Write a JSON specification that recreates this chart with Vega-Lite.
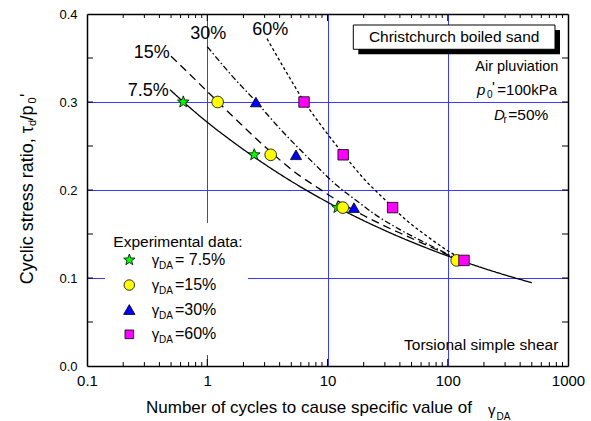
{
  "$schema": "https://vega.github.io/schema/vega-lite/v6.json",
  "width": 481,
  "height": 352,
  "autosize": {"type": "none"},
  "padding": {"left": 87, "top": 14, "right": 23, "bottom": 55},
  "background": "white",
  "config": {
    "view": {"stroke": null},
    "font": "Liberation Sans",
    "axis": {
      "domainColor": "black", "domainWidth": 1.5,
      "labelColor": "black", "labelFont": "Liberation Sans", "labelFlush": false, "labelOverlap": false,
      "gridColor": "#3b3bff", "gridWidth": 1, "gridOpacity": 1, "title": null
    },
    "text": {"font": "Liberation Sans", "color": "black"}
  },
  "data": {"values": [{}]},
  "datasets": {
    "curves": [
      {"gamma": "7.5%", "n": 0.49, "tau": 0.314}, {"gamma": "7.5%", "n": 0.635, "tau": 0.3},
      {"gamma": "7.5%", "n": 1, "tau": 0.277}, {"gamma": "7.5%", "n": 1.5, "tau": 0.2585},
      {"gamma": "7.5%", "n": 2.5, "tau": 0.2367}, {"gamma": "7.5%", "n": 4, "tau": 0.2182},
      {"gamma": "7.5%", "n": 6.5, "tau": 0.2006}, {"gamma": "7.5%", "n": 10, "tau": 0.1862},
      {"gamma": "7.5%", "n": 15, "tau": 0.1736}, {"gamma": "7.5%", "n": 25, "tau": 0.1589},
      {"gamma": "7.5%", "n": 40, "tau": 0.1465}, {"gamma": "7.5%", "n": 65, "tau": 0.1347},
      {"gamma": "7.5%", "n": 100, "tau": 0.125}, {"gamma": "7.5%", "n": 160, "tau": 0.1153},
      {"gamma": "7.5%", "n": 250, "tau": 0.1067}, {"gamma": "7.5%", "n": 400, "tau": 0.0984},
      {"gamma": "7.5%", "n": 500, "tau": 0.0946},
      {"gamma": "15%", "n": 0.5, "tau": 0.352}, {"gamma": "15%", "n": 0.8, "tau": 0.325},
      {"gamma": "15%", "n": 1.23, "tau": 0.3}, {"gamma": "15%", "n": 2, "tau": 0.272},
      {"gamma": "15%", "n": 3.39, "tau": 0.243}, {"gamma": "15%", "n": 5.5, "tau": 0.219},
      {"gamma": "15%", "n": 8, "tau": 0.204}, {"gamma": "15%", "n": 13.5, "tau": 0.184},
      {"gamma": "15%", "n": 20, "tau": 0.171}, {"gamma": "15%", "n": 30, "tau": 0.159},
      {"gamma": "15%", "n": 45, "tau": 0.148}, {"gamma": "15%", "n": 70, "tau": 0.136},
      {"gamma": "15%", "n": 116, "tau": 0.1225},
      {"gamma": "30%", "n": 1, "tau": 0.363}, {"gamma": "30%", "n": 1.6, "tau": 0.33},
      {"gamma": "30%", "n": 2.56, "tau": 0.3}, {"gamma": "30%", "n": 4, "tau": 0.27},
      {"gamma": "30%", "n": 5.52, "tau": 0.25}, {"gamma": "30%", "n": 8, "tau": 0.228},
      {"gamma": "30%", "n": 12, "tau": 0.205}, {"gamma": "30%", "n": 17, "tau": 0.189},
      {"gamma": "30%", "n": 25, "tau": 0.172}, {"gamma": "30%", "n": 40, "tau": 0.155},
      {"gamma": "30%", "n": 65, "tau": 0.14}, {"gamma": "30%", "n": 116, "tau": 0.1225},
      {"gamma": "60%", "n": 3.14, "tau": 0.372}, {"gamma": "60%", "n": 4.5, "tau": 0.335},
      {"gamma": "60%", "n": 6.43, "tau": 0.3}, {"gamma": "60%", "n": 9, "tau": 0.272},
      {"gamma": "60%", "n": 13.7, "tau": 0.24}, {"gamma": "60%", "n": 20, "tau": 0.213},
      {"gamma": "60%", "n": 29.5, "tau": 0.19}, {"gamma": "60%", "n": 45, "tau": 0.166},
      {"gamma": "60%", "n": 68, "tau": 0.147}, {"gamma": "60%", "n": 100, "tau": 0.131},
      {"gamma": "60%", "n": 125, "tau": 0.123}
    ],
    "tests": [
      {"gamma": "7.5%", "n": 0.632, "tau": 0.3}, {"gamma": "7.5%", "n": 2.46, "tau": 0.24},
      {"gamma": "7.5%", "n": 12.1, "tau": 0.18},
      {"gamma": "15%", "n": 1.22, "tau": 0.3}, {"gamma": "15%", "n": 3.37, "tau": 0.24},
      {"gamma": "15%", "n": 13.4, "tau": 0.18}, {"gamma": "15%", "n": 118.7, "tau": 0.12},
      {"gamma": "30%", "n": 2.54, "tau": 0.3}, {"gamma": "30%", "n": 5.47, "tau": 0.24},
      {"gamma": "30%", "n": 16.6, "tau": 0.18},
      {"gamma": "60%", "n": 6.38, "tau": 0.3}, {"gamma": "60%", "n": 13.5, "tau": 0.24},
      {"gamma": "60%", "n": 34.8, "tau": 0.18}, {"gamma": "60%", "n": 136.5, "tau": 0.12}
    ],
    "minorTicksX": [
      {"n": 0.2}, {"n": 0.3}, {"n": 0.4}, {"n": 0.5}, {"n": 0.6}, {"n": 0.7}, {"n": 0.8}, {"n": 0.9},
      {"n": 2}, {"n": 3}, {"n": 4}, {"n": 5}, {"n": 6}, {"n": 7}, {"n": 8}, {"n": 9},
      {"n": 20}, {"n": 30}, {"n": 40}, {"n": 50}, {"n": 60}, {"n": 70}, {"n": 80}, {"n": 90},
      {"n": 200}, {"n": 300}, {"n": 400}, {"n": 500}, {"n": 600}, {"n": 700}, {"n": 800}, {"n": 900}
    ],
    "majorTicksX": [{"n": 1}, {"n": 10}, {"n": 100}],
    "ticksY": [{"tau": 0.05}, {"tau": 0.1}, {"tau": 0.15}, {"tau": 0.2}, {"tau": 0.25}, {"tau": 0.3}, {"tau": 0.35}]
  },
  "resolve": {"axis": {"x": "independent", "y": "independent"}},
  "layer": [
    {
      "description": "shadow of the title box; its axes draw the blue grid",
      "mark": {"type": "rect", "fill": "black"},
      "encoding": {
        "x": {"datum": 18.03, "type": "quantitative", "scale": {"type": "log", "domain": [0.1, 1000]},
              "axis": {"orient": "bottom", "values": [1, 10, 100], "grid": true, "ticks": false, "labels": false, "domain": false, "zindex": 0}},
        "x2": {"datum": 858.2},
        "y": {"datum": 0.3818, "type": "quantitative", "scale": {"domain": [0, 0.4], "nice": false},
              "axis": {"orient": "left", "values": [0.1, 0.2, 0.3], "grid": true, "ticks": false, "labels": false, "domain": false, "zindex": 0}},
        "y2": {"datum": 0.3542}
      }
    },
    {
      "description": "title box",
      "mark": {"type": "rect", "fill": "white", "stroke": "black", "strokeWidth": 1},
      "encoding": {
        "x": {"datum": 16.39, "type": "quantitative", "scale": {"type": "log", "domain": [0.1, 1000]}, "axis": null},
        "x2": {"datum": 779.6},
        "y": {"datum": 0.3875, "type": "quantitative", "scale": {"domain": [0, 0.4], "nice": false}, "axis": null},
        "y2": {"datum": 0.3599}
      }
    },
    {
      "description": "white backing of the legend",
      "mark": {"type": "rect", "fill": "white"},
      "encoding": {
        "x": {"datum": 0.1412, "type": "quantitative", "scale": {"type": "log", "domain": [0.1, 1000]}, "axis": null},
        "x2": {"datum": 2.183},
        "y": {"datum": 0.1625, "type": "quantitative", "scale": {"domain": [0, 0.4], "nice": false}, "axis": null},
        "y2": {"datum": 0.0125}
      }
    },
    {
      "description": "fitted curves; the axes draw the labels and the bottom and left frame",
      "data": {"name": "curves"},
      "mark": {"type": "line", "color": "black", "strokeWidth": 1.3, "interpolate": "monotone"},
      "encoding": {
        "x": {"field": "n", "type": "quantitative", "scale": {"type": "log", "domain": [0.1, 1000]},
              "axis": {"orient": "bottom", "values": [0.1, 1, 10, 100, 1000], "format": "~g",
                       "ticks": false, "labelPadding": 7, "labelFontSize": 15, "domain": true, "grid": false, "zindex": 1}},
        "y": {"field": "tau", "type": "quantitative", "scale": {"domain": [0, 0.4], "nice": false},
              "axis": {"orient": "left", "values": [0, 0.1, 0.2, 0.3, 0.4], "format": ".1f",
                       "ticks": false, "labelPadding": 10, "labelFontSize": 13, "domain": true, "grid": false, "zindex": 1}},
        "strokeDash": {"field": "gamma", "type": "nominal",
                       "scale": {"domain": ["7.5%", "15%", "30%", "60%"], "range": [[1, 0], [8, 5], [6, 2.5, 1.5, 2.5], [3, 2.5]]},
                       "legend": null}
      }
    },
    {
      "description": "experimental data points; the axes draw the top and right frame",
      "data": {"name": "tests"},
      "mark": {"type": "point", "filled": true, "stroke": "black", "strokeWidth": 0.8, "opacity": 1},
      "encoding": {
        "x": {"field": "n", "type": "quantitative", "scale": {"type": "log", "domain": [0.1, 1000]},
              "axis": {"orient": "top", "values": [0.1, 1000], "ticks": false, "labels": false, "domain": true, "grid": false, "zindex": 1}},
        "y": {"field": "tau", "type": "quantitative", "scale": {"domain": [0, 0.4], "nice": false},
              "axis": {"orient": "right", "values": [0, 0.4], "ticks": false, "labels": false, "domain": true, "grid": false, "zindex": 1}},
        "shape": {"field": "gamma", "type": "nominal",
                  "scale": {"domain": ["7.5%", "15%", "30%", "60%"],
                            "range": ["M0,-1L0.247,-0.34L0.951,-0.309L0.399,0.13L0.588,0.809L0,0.42L-0.588,0.809L-0.399,0.13L-0.951,-0.309L-0.247,-0.34Z", "circle", "triangle-up", "square"]},
                  "legend": null},
        "fill": {"field": "gamma", "type": "nominal",
                 "scale": {"domain": ["7.5%", "15%", "30%", "60%"], "range": ["#00ff00", "#ffff00", "#0000ff", "#ff00ff"]},
                 "legend": null},
        "size": {"field": "gamma", "type": "nominal",
                 "scale": {"domain": ["7.5%", "15%", "30%", "60%"], "range": [150, 110, 130, 75]},
                 "legend": null}
      }
    },
    {
      "description": "inward minor ticks, bottom edge",
      "data": {"name": "minorTicksX"},
      "mark": {"type": "rule", "color": "black", "strokeWidth": 1},
      "encoding": {
        "x": {"field": "n", "type": "quantitative", "scale": {"type": "log"}, "axis": null},
        "y": {"datum": 0, "type": "quantitative", "axis": null},
        "y2": {"datum": 0.0045}
      }
    },
    {
      "description": "inward minor ticks, top edge",
      "data": {"name": "minorTicksX"},
      "mark": {"type": "rule", "color": "black", "strokeWidth": 1},
      "encoding": {
        "x": {"field": "n", "type": "quantitative", "scale": {"type": "log"}, "axis": null},
        "y": {"datum": 0.4, "type": "quantitative", "axis": null},
        "y2": {"datum": 0.3955}
      }
    },
    {
      "description": "inward decade ticks, bottom edge",
      "data": {"name": "majorTicksX"},
      "mark": {"type": "rule", "color": "black", "strokeWidth": 1},
      "encoding": {
        "x": {"field": "n", "type": "quantitative", "scale": {"type": "log"}, "axis": null},
        "y": {"datum": 0, "type": "quantitative", "axis": null},
        "y2": {"datum": 0.008}
      }
    },
    {
      "description": "inward decade ticks, top edge",
      "data": {"name": "majorTicksX"},
      "mark": {"type": "rule", "color": "black", "strokeWidth": 1},
      "encoding": {
        "x": {"field": "n", "type": "quantitative", "scale": {"type": "log"}, "axis": null},
        "y": {"datum": 0.4, "type": "quantitative", "axis": null},
        "y2": {"datum": 0.392}
      }
    },
    {
      "description": "inward ticks, left edge",
      "data": {"name": "ticksY"},
      "mark": {"type": "rule", "color": "black", "strokeWidth": 1},
      "encoding": {
        "y": {"field": "tau", "type": "quantitative", "axis": null},
        "x": {"datum": 0.1, "type": "quantitative", "scale": {"type": "log"}, "axis": null},
        "x2": {"datum": 0.1122}
      }
    },
    {
      "description": "inward ticks, right edge",
      "data": {"name": "ticksY"},
      "mark": {"type": "rule", "color": "black", "strokeWidth": 1},
      "encoding": {
        "y": {"field": "tau", "type": "quantitative", "axis": null},
        "x": {"datum": 1000, "type": "quantitative", "scale": {"type": "log"}, "axis": null},
        "x2": {"datum": 891.3}
      }
    },
    {
      "mark": {"type": "text", "text": "7.5%", "fontSize": 18, "align": "center", "baseline": "middle"},
      "encoding": {
        "x": {"datum": 0.3235, "type": "quantitative", "scale": {"type": "log"}, "axis": null},
        "y": {"datum": 0.3125, "type": "quantitative", "axis": null}
      }
    },
    {
      "mark": {"type": "text", "text": "15%", "fontSize": 18, "align": "center", "baseline": "middle"},
      "encoding": {
        "x": {"datum": 0.3458, "type": "quantitative", "scale": {"type": "log"}, "axis": null},
        "y": {"datum": 0.3553, "type": "quantitative", "axis": null}
      }
    },
    {
      "mark": {"type": "text", "text": "30%", "fontSize": 18, "align": "center", "baseline": "middle"},
      "encoding": {
        "x": {"datum": 1.018, "type": "quantitative", "scale": {"type": "log"}, "axis": null},
        "y": {"datum": 0.3773, "type": "quantitative", "axis": null}
      }
    },
    {
      "mark": {"type": "text", "text": "60%", "fontSize": 18, "align": "center", "baseline": "middle"},
      "encoding": {
        "x": {"datum": 3.344, "type": "quantitative", "scale": {"type": "log"}, "axis": null},
        "y": {"datum": 0.3815, "type": "quantitative", "axis": null}
      }
    },
    {
      "mark": {"type": "text", "text": "Christchurch boiled sand", "fontSize": 15.5, "align": "center", "baseline": "middle"},
      "encoding": {
        "x": {"datum": 113.1, "type": "quantitative", "scale": {"type": "log"}, "axis": null},
        "y": {"datum": 0.3739, "type": "quantitative", "axis": null}
      }
    },
    {
      "mark": {"type": "text", "text": "Air pluviation", "fontSize": 14.5, "align": "right", "baseline": "middle"},
      "encoding": {
        "x": {"datum": 830.6, "type": "quantitative", "scale": {"type": "log"}, "axis": null},
        "y": {"datum": 0.3401, "type": "quantitative", "axis": null}
      }
    },
    {
      "mark": {"type": "text", "text": "p", "fontSize": 15, "fontStyle": "italic", "align": "left", "baseline": "middle"},
      "encoding": {
        "x": {"datum": 175.1, "type": "quantitative", "scale": {"type": "log"}, "axis": null},
        "y": {"datum": 0.3136, "type": "quantitative", "axis": null}
      }
    },
    {
      "mark": {"type": "text", "text": "0", "fontSize": 10, "align": "left", "baseline": "middle"},
      "encoding": {
        "x": {"datum": 212, "type": "quantitative", "scale": {"type": "log"}, "axis": null},
        "y": {"datum": 0.308, "type": "quantitative", "axis": null}
      }
    },
    {
      "mark": {"type": "text", "text": "'", "fontSize": 15, "align": "left", "baseline": "middle"},
      "encoding": {
        "x": {"datum": 233.3, "type": "quantitative", "scale": {"type": "log"}, "axis": null},
        "y": {"datum": 0.3165, "type": "quantitative", "axis": null}
      }
    },
    {
      "mark": {"type": "text", "text": "=100kPa", "fontSize": 15, "align": "right", "baseline": "middle"},
      "encoding": {
        "x": {"datum": 809.8, "type": "quantitative", "scale": {"type": "log"}, "axis": null},
        "y": {"datum": 0.3136, "type": "quantitative", "axis": null}
      }
    },
    {
      "mark": {"type": "text", "text": "D", "fontSize": 15, "fontStyle": "italic", "align": "left", "baseline": "middle"},
      "encoding": {
        "x": {"datum": 242.4, "type": "quantitative", "scale": {"type": "log"}, "axis": null},
        "y": {"datum": 0.2852, "type": "quantitative", "axis": null}
      }
    },
    {
      "mark": {"type": "text", "text": "r", "fontSize": 10, "align": "left", "baseline": "middle"},
      "encoding": {
        "x": {"datum": 290.8, "type": "quantitative", "scale": {"type": "log"}, "axis": null},
        "y": {"datum": 0.2796, "type": "quantitative", "axis": null}
      }
    },
    {
      "mark": {"type": "text", "text": "=50%", "fontSize": 15.5, "align": "right", "baseline": "middle"},
      "encoding": {
        "x": {"datum": 685.9, "type": "quantitative", "scale": {"type": "log"}, "axis": null},
        "y": {"datum": 0.2852, "type": "quantitative", "axis": null}
      }
    },
    {
      "mark": {"type": "text", "text": "Torsional simple shear", "fontSize": 15.5, "align": "right", "baseline": "middle"},
      "encoding": {
        "x": {"datum": 830.6, "type": "quantitative", "scale": {"type": "log"}, "axis": null},
        "y": {"datum": 0.0239, "type": "quantitative", "axis": null}
      }
    },
    {
      "mark": {"type": "text", "text": "Experimental data:", "fontSize": 15.5, "align": "left", "baseline": "middle"},
      "encoding": {
        "x": {"datum": 0.1655, "type": "quantitative", "scale": {"type": "log"}, "axis": null},
        "y": {"datum": 0.1413, "type": "quantitative", "axis": null}
      }
    },
    {
      "mark": {"type": "point", "filled": true, "stroke": "black", "strokeWidth": 0.8, "opacity": 1, "fill": "#00ff00", "size": 140,
               "shape": "M0,-1L0.247,-0.34L0.951,-0.309L0.399,0.13L0.588,0.809L0,0.42L-0.588,0.809L-0.399,0.13L-0.951,-0.309L-0.247,-0.34Z"},
      "encoding": {
        "x": {"datum": 0.2248, "type": "quantitative", "scale": {"type": "log"}, "axis": null},
        "y": {"datum": 0.1205, "type": "quantitative", "axis": null}
      }
    },
    {
      "mark": {"type": "point", "filled": true, "stroke": "black", "strokeWidth": 0.8, "opacity": 1, "fill": "#ffff00", "size": 110, "shape": "circle"},
      "encoding": {
        "x": {"datum": 0.2248, "type": "quantitative", "scale": {"type": "log"}, "axis": null},
        "y": {"datum": 0.092, "type": "quantitative", "axis": null}
      }
    },
    {
      "mark": {"type": "point", "filled": true, "stroke": "black", "strokeWidth": 0.8, "opacity": 1, "fill": "#0000ff", "size": 130, "shape": "triangle-up"},
      "encoding": {
        "x": {"datum": 0.2248, "type": "quantitative", "scale": {"type": "log"}, "axis": null},
        "y": {"datum": 0.0642, "type": "quantitative", "axis": null}
      }
    },
    {
      "mark": {"type": "point", "filled": true, "stroke": "black", "strokeWidth": 0.8, "opacity": 1, "fill": "#ff00ff", "size": 75, "shape": "square"},
      "encoding": {
        "x": {"datum": 0.2248, "type": "quantitative", "scale": {"type": "log"}, "axis": null},
        "y": {"datum": 0.036, "type": "quantitative", "axis": null}
      }
    },
    {
      "mark": {"type": "text", "text": ["γ", "γ", "γ", "γ"], "fontSize": 15, "lineHeight": 24.8, "align": "left", "baseline": "middle"},
      "encoding": {
        "x": {"datum": 0.345, "type": "quantitative", "scale": {"type": "log"}, "axis": null},
        "y": {"datum": 0.1205, "type": "quantitative", "axis": null}
      }
    },
    {
      "mark": {"type": "text", "text": ["DA", "DA", "DA", "DA"], "fontSize": 10, "lineHeight": 24.8, "align": "left", "baseline": "middle"},
      "encoding": {
        "x": {"datum": 0.397, "type": "quantitative", "scale": {"type": "log"}, "axis": null},
        "y": {"datum": 0.1136, "type": "quantitative", "axis": null}
      }
    },
    {
      "mark": {"type": "text", "text": ["= 7.5%", "=15%", "=30%", "=60%"], "fontSize": 16, "lineHeight": 24.8, "align": "left", "baseline": "middle"},
      "encoding": {
        "x": {"datum": 0.539, "type": "quantitative", "scale": {"type": "log"}, "axis": null},
        "y": {"datum": 0.1205, "type": "quantitative", "axis": null}
      }
    },
    {
      "mark": {"type": "text", "text": "Number of cycles to cause specific value of", "fontSize": 17, "align": "left", "baseline": "alphabetic"},
      "encoding": {
        "x": {"datum": 0.3094, "type": "quantitative", "scale": {"type": "log"}, "axis": null},
        "y": {"datum": -0.0538, "type": "quantitative", "axis": null}
      }
    },
    {
      "mark": {"type": "text", "text": "γ", "fontSize": 15, "align": "left", "baseline": "alphabetic"},
      "encoding": {
        "x": {"datum": 216.1, "type": "quantitative", "scale": {"type": "log"}, "axis": null},
        "y": {"datum": -0.0557, "type": "quantitative", "axis": null}
      }
    },
    {
      "mark": {"type": "text", "text": "DA", "fontSize": 10, "align": "left", "baseline": "alphabetic"},
      "encoding": {
        "x": {"datum": 254.3, "type": "quantitative", "scale": {"type": "log"}, "axis": null},
        "y": {"datum": -0.0614, "type": "quantitative", "axis": null}
      }
    },
    {
      "mark": {"type": "text", "text": "Cyclic stress ratio, τ", "fontSize": 18, "angle": 270, "align": "right", "baseline": "alphabetic"},
      "encoding": {
        "x": {"datum": 0.03556, "type": "quantitative", "scale": {"type": "log"}, "axis": null},
        "y": {"datum": 0.2727, "type": "quantitative", "axis": null}
      }
    },
    {
      "mark": {"type": "text", "text": "d", "fontSize": 11, "angle": 270, "align": "left", "baseline": "alphabetic"},
      "encoding": {
        "x": {"datum": 0.03802, "type": "quantitative", "scale": {"type": "log"}, "axis": null},
        "y": {"datum": 0.2727, "type": "quantitative", "axis": null}
      }
    },
    {
      "mark": {"type": "text", "text": "/p", "fontSize": 18, "angle": 270, "align": "left", "baseline": "alphabetic"},
      "encoding": {
        "x": {"datum": 0.03556, "type": "quantitative", "scale": {"type": "log"}, "axis": null},
        "y": {"datum": 0.279, "type": "quantitative", "axis": null}
      }
    },
    {
      "mark": {"type": "text", "text": "0", "fontSize": 11, "angle": 270, "align": "left", "baseline": "alphabetic"},
      "encoding": {
        "x": {"datum": 0.03802, "type": "quantitative", "scale": {"type": "log"}, "axis": null},
        "y": {"datum": 0.2983, "type": "quantitative", "axis": null}
      }
    },
    {
      "mark": {"type": "text", "text": "'", "fontSize": 18, "angle": 270, "align": "left", "baseline": "alphabetic"},
      "encoding": {
        "x": {"datum": 0.03556, "type": "quantitative", "scale": {"type": "log"}, "axis": null},
        "y": {"datum": 0.3057, "type": "quantitative", "axis": null}
      }
    }
  ]
}
